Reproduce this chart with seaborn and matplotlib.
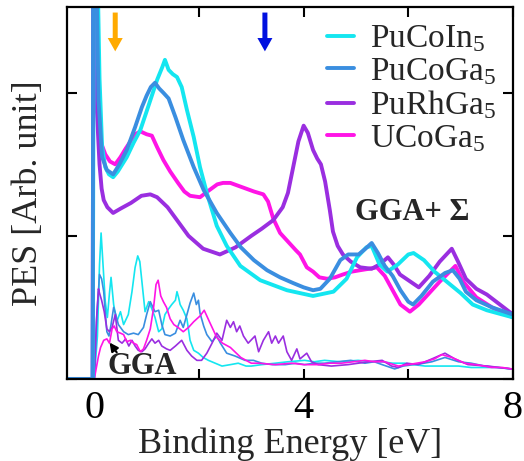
import numpy as np
import pandas as pd
import matplotlib
matplotlib.use("Agg")
import matplotlib.pyplot as plt
import seaborn as sns

# compounds and colours
names = ["PuCoIn$_5$", "PuCoGa$_5$", "PuRhGa$_5$", "UCoGa$_5$"]
colors = ["#14e6f0", "#3a8ee0", "#9a2ee0", "#ff14e6"]

# GGA+Sigma spectra (thick)
x_pucoin = [-0.5, -0.03, -0.01, 0.06, 0.1, 0.15, 0.21, 0.28, 0.36, 0.45, 0.62, 0.75, 0.88, 1.0, 1.1,
            1.2, 1.3, 1.35, 1.42, 1.5, 1.58, 1.67, 1.77, 1.9, 2.02, 2.15, 2.34, 2.53, 2.79, 3.17,
            3.68, 4.18, 4.57, 4.82, 5.02, 5.2, 5.3, 5.45, 5.6, 5.8, 6.0, 6.1, 6.3, 6.5, 6.7, 7.0,
            7.23, 7.5, 7.8, 8.0]
y_pucoin = [0.0, 0.0, 2.9, 2.9, 2.1, 1.62, 1.48, 1.43, 1.41, 1.45, 1.55, 1.65, 1.74, 1.87, 1.98,
            2.09, 2.18, 2.23, 2.16, 2.13, 2.11, 2.04, 1.88, 1.69, 1.48, 1.3, 1.07, 0.93, 0.79, 0.69,
            0.62, 0.58, 0.61, 0.7, 0.85, 0.92, 0.93, 0.8, 0.75, 0.8, 0.87, 0.88, 0.83, 0.75, 0.69, 0.6,
            0.52, 0.48, 0.45, 0.43]

x_pucoga = [-0.5, -0.03, -0.02, 0.04, 0.08, 0.15, 0.24, 0.36, 0.48, 0.62, 0.78, 0.91, 1.0, 1.08,
            1.16, 1.24, 1.32, 1.42, 1.55, 1.7, 1.9, 2.09, 2.34, 2.6, 2.8, 3.05, 3.3, 3.55, 3.8, 4.0,
            4.18, 4.32, 4.5, 4.7, 4.85, 5.05, 5.18, 5.3, 5.42, 5.55, 5.7, 5.85, 6.0, 6.09, 6.25,
            6.47, 6.7, 6.85, 6.98, 7.1, 7.3, 7.6, 8.0]
y_pucoga = [0.0, 0.0, 2.9, 2.9, 1.95, 1.55, 1.46, 1.43, 1.5, 1.6, 1.76, 1.9, 1.98, 2.04,
            2.07, 2.03, 2.0, 1.96, 1.83, 1.67, 1.48, 1.32, 1.16, 1.02, 0.92, 0.83, 0.76, 0.71, 0.67, 0.64,
            0.62, 0.63, 0.7, 0.83, 0.87, 0.87, 0.91, 0.95, 0.88, 0.79, 0.72, 0.62, 0.54, 0.52, 0.58,
            0.68, 0.74, 0.76, 0.7, 0.61, 0.55, 0.5, 0.45]

x_purhga = [-0.5, -0.03, -0.02, 0.03, 0.05, 0.1, 0.14, 0.18, 0.25, 0.36, 0.5, 0.7, 0.9, 1.07, 1.2,
            1.4, 1.6, 1.8, 2.08, 2.4, 2.7, 3.0, 3.2, 3.42, 3.6, 3.7, 3.8, 3.9, 4.0, 4.08, 4.18, 4.26,
            4.33, 4.41, 4.5, 4.56, 4.65, 4.75, 4.9, 5.08, 5.3, 5.45, 5.61, 5.72, 5.84, 6.0, 6.2,
            6.4, 6.6, 6.83, 6.95, 7.1, 7.3, 7.5, 7.75, 8.0]
y_purhga = [0.0, 0.0, 2.9, 2.4, 1.87, 1.5, 1.33, 1.25, 1.2, 1.16, 1.19, 1.23, 1.28, 1.29, 1.27,
            1.2, 1.1, 1.0, 0.91, 0.87, 0.92, 1.0, 1.05, 1.11, 1.2, 1.3, 1.48, 1.66, 1.77, 1.72, 1.6, 1.54,
            1.5, 1.38, 1.18, 1.03, 0.93, 0.87, 0.82, 0.78, 0.77, 0.8, 0.85, 0.8, 0.73, 0.69, 0.64,
            0.72, 0.82, 0.91, 0.82, 0.7, 0.63, 0.59, 0.52, 0.45]

x_ucoga = [-0.5, -0.03, -0.02, 0.03, 0.05, 0.11, 0.21, 0.3, 0.4, 0.5, 0.6, 0.69, 0.78, 0.88, 1.0,
           1.1, 1.2, 1.32, 1.45, 1.6, 1.72, 1.83, 2.02, 2.2, 2.35, 2.46, 2.6, 2.75, 2.9, 3.05, 3.23,
           3.32, 3.42, 3.55, 3.7, 3.85, 3.93, 4.06, 4.18, 4.3, 4.45, 4.6, 4.75, 4.92, 5.08, 5.25,
           5.4, 5.55, 5.7, 5.85, 6.03, 6.2, 6.4, 6.6, 6.9, 7.05, 7.3, 7.6, 8.0]
y_ucoga = [0.0, 0.0, 2.9, 2.6, 2.2, 1.67, 1.57, 1.52, 1.5, 1.55, 1.61, 1.66, 1.71, 1.73, 1.71,
           1.7, 1.62, 1.53, 1.45, 1.37, 1.31, 1.28, 1.27, 1.32, 1.36, 1.37, 1.37, 1.35, 1.33, 1.31, 1.29,
           1.24, 1.12, 1.02, 0.96, 0.9, 0.87, 0.78, 0.75, 0.71, 0.7, 0.71, 0.73, 0.75, 0.76, 0.77,
           0.78, 0.72, 0.62, 0.52, 0.47, 0.52, 0.6, 0.68, 0.79, 0.68, 0.57, 0.5, 0.43]

# GGA spectra (thin)
gx_pucoin = [0.0, 0.06, 0.1, 0.13, 0.17, 0.21, 0.25, 0.29, 0.32, 0.37, 0.43, 0.5, 0.56, 0.65, 0.72,
             0.78, 0.83, 0.87, 0.93, 0.97, 1.04, 1.1, 1.16, 1.23, 1.29, 1.35, 1.42, 1.48, 1.55, 1.58,
             1.61, 1.64, 1.7, 1.77, 1.83, 1.9, 1.99, 2.08, 2.18, 2.31, 2.44, 2.6, 2.75, 2.9, 3.0, 3.2,
             3.46, 3.7, 4.02, 4.2, 4.4, 4.7, 5.04, 5.3, 5.5, 5.7, 5.93, 6.1, 6.32, 6.6, 6.96, 7.2,
             7.46, 7.7, 7.97]
gy_pucoin = [0.0, 0.3, 0.8, 1.02, 0.78, 0.54, 0.43, 0.6, 0.71, 0.52, 0.4, 0.47, 0.38, 0.45, 0.61,
             0.78, 0.86, 0.82, 0.61, 0.47, 0.54, 0.49, 0.43, 0.33, 0.35, 0.45, 0.49, 0.52, 0.55, 0.61,
             0.57, 0.52, 0.48, 0.42, 0.27, 0.2, 0.18, 0.15, 0.13, 0.11, 0.09, 0.1, 0.11, 0.09, 0.09, 0.1,
             0.11, 0.12, 0.13, 0.12, 0.13, 0.12, 0.13, 0.12, 0.12, 0.11, 0.11, 0.1, 0.09, 0.09, 0.09, 0.08,
             0.08, 0.08, 0.07]

gx_pucoga = [0.0, 0.05, 0.1, 0.14, 0.18, 0.21, 0.24, 0.28, 0.32, 0.37, 0.41, 0.46, 0.56, 0.65, 0.75,
             0.84, 0.94, 1.0, 1.07, 1.12, 1.16, 1.23, 1.29, 1.35, 1.45, 1.55, 1.64, 1.7, 1.77, 1.83,
             1.9, 1.95, 1.99, 2.02, 2.09, 2.15, 2.25, 2.34, 2.41, 2.53, 2.69, 2.88, 3.04, 3.2, 3.4,
             3.65, 3.85, 4.02, 4.2, 4.4, 4.65, 4.9, 5.17, 5.35, 5.5, 5.74, 5.9, 6.1, 6.3, 6.45, 6.7,
             6.96, 7.2, 7.46, 7.7, 7.97]
gy_pucoga = [0.0, 0.45, 0.73, 0.7, 0.61, 0.47, 0.33, 0.3, 0.38, 0.5, 0.45, 0.38, 0.33, 0.31, 0.32,
             0.31, 0.36, 0.45, 0.54, 0.5, 0.47, 0.48, 0.38, 0.31, 0.3, 0.32, 0.41, 0.36, 0.45, 0.53,
             0.6, 0.52, 0.55, 0.46, 0.37, 0.31, 0.26, 0.3, 0.25, 0.18, 0.16, 0.13, 0.13, 0.11, 0.1,
             0.1, 0.11, 0.1, 0.11, 0.11, 0.12, 0.13, 0.11, 0.12, 0.1, 0.07, 0.09, 0.1, 0.11, 0.12, 0.15,
             0.12, 0.11, 0.09, 0.08, 0.07]

gx_purhga = [0.0, 0.04, 0.08, 0.1, 0.14, 0.19, 0.24, 0.29, 0.34, 0.4, 0.46, 0.53, 0.6, 0.66, 0.72,
             0.78, 0.84, 0.91, 0.97, 1.04, 1.1, 1.16, 1.23, 1.29, 1.38, 1.45, 1.55, 1.67, 1.77, 1.86,
             1.96, 2.05, 2.15, 2.25, 2.34, 2.44, 2.53, 2.6, 2.66, 2.72, 2.78, 2.85, 2.94, 3.07, 3.14,
             3.23, 3.33, 3.39, 3.46, 3.52, 3.61, 3.68, 3.77, 3.87, 3.93, 4.06, 4.15, 4.28, 4.53, 4.85,
             5.24, 5.5, 5.68, 5.81, 5.97, 6.19, 6.45, 6.7, 6.89, 7.14, 7.52, 7.97]
gy_purhga = [0.0, 0.4, 0.63, 0.6, 0.55, 0.47, 0.35, 0.33, 0.36, 0.45, 0.27, 0.25, 0.28, 0.23, 0.27,
             0.23, 0.2, 0.19, 0.21, 0.25, 0.28, 0.25, 0.27, 0.23, 0.21, 0.2, 0.23, 0.27, 0.2, 0.16,
             0.13, 0.13, 0.18, 0.25, 0.32, 0.27, 0.41, 0.36, 0.4, 0.33, 0.37, 0.3, 0.25, 0.3, 0.19,
             0.27, 0.33, 0.25, 0.3, 0.25, 0.3, 0.19, 0.13, 0.21, 0.14, 0.18, 0.12, 0.1, 0.09, 0.1,
             0.12, 0.13, 0.09, 0.08, 0.11, 0.1, 0.14, 0.18, 0.14, 0.1, 0.09, 0.07]

gx_ucoga = [0.0, 0.05, 0.08, 0.12, 0.18, 0.24, 0.29, 0.34, 0.38, 0.43, 0.5, 0.56, 0.62, 0.69, 0.75,
            0.81, 0.88, 0.94, 1.0, 1.07, 1.13, 1.18, 1.22, 1.27, 1.32, 1.38, 1.45, 1.52, 1.6, 1.7,
            1.8, 1.9, 2.02, 2.1, 2.2, 2.34, 2.45, 2.6, 2.8, 3.0, 3.14, 3.46, 3.77, 4.0, 4.28, 4.5,
            4.72, 4.95, 5.17, 5.35, 5.55, 5.81, 6.0, 6.32, 6.5, 6.64, 6.83, 7.08, 7.3, 7.59, 7.8, 7.97]
gy_ucoga = [0.0, 0.1, 0.16, 0.22, 0.27, 0.28, 0.25, 0.35, 0.37, 0.33, 0.32, 0.31, 0.26, 0.27, 0.25,
            0.24, 0.19, 0.21, 0.27, 0.35, 0.49, 0.66, 0.69, 0.58, 0.54, 0.5, 0.42, 0.38, 0.36, 0.33,
            0.36, 0.4, 0.44, 0.48, 0.4, 0.29, 0.25, 0.22, 0.15, 0.11, 0.11, 0.1, 0.11, 0.1, 0.1, 0.11,
            0.11, 0.12, 0.13, 0.12, 0.12, 0.09, 0.1, 0.12, 0.14, 0.17, 0.15, 0.11, 0.1, 0.08, 0.08, 0.07]

thick = [(x_pucoin, y_pucoin), (x_pucoga, y_pucoga), (x_purhga, y_purhga), (x_ucoga, y_ucoga)]
thin = [(gx_pucoin, gy_pucoin), (gx_pucoga, gy_pucoga), (gx_purhga, gy_purhga), (gx_ucoga, gy_ucoga)]

sns.set_style("ticks")
plt.rcParams["font.family"] = ["Liberation Serif", "DejaVu Serif"]
plt.rcParams["mathtext.default"] = "regular"

fig = plt.figure(figsize=(5.24, 4.61), dpi=100)
ax = fig.add_axes([0.128, 0.178, 0.851, 0.807])

for (gx, gy), c in zip(thin, colors):
    sns.lineplot(x=gx, y=gy, ax=ax, color=c, lw=1.2, sort=False, estimator=None)

handles = {}
for i in [3, 2, 0, 1]:
    tx, ty = thick[i]
    sns.lineplot(x=tx, y=ty, ax=ax, color=colors[i], lw=2.8, sort=False, estimator=None)
    handles[i] = ax.lines[-1]

ax.set_xlim(-0.52, 8.0)
ax.set_ylim(0, 2.6)
ax.set_xticks([0, 2, 4, 6, 8])
ax.set_xticklabels(["0", "", "4", "", "8"])
ax.set_yticks([0, 1, 2])
ax.set_yticklabels([])
ax.tick_params(direction="in", top=True, right=True, length=7, width=1.5,
               labelsize=29, pad=8, colors="black")
for s in ax.spines.values():
    s.set_linewidth(1.6)
    s.set_color("black")

ax.set_xlabel("Binding Energy [eV]", fontsize=26, labelpad=0)
ax.set_ylabel("PES [Arb. unit]", fontsize=26, labelpad=8)

leg = ax.legend([handles[i] for i in range(4)], names, loc="upper right",
                bbox_to_anchor=(1.0, 1.0), frameon=False, fontsize=24,
                handlelength=0.8, handletextpad=0.5, labelspacing=0.05,
                borderaxespad=0.1)

# arrows marking energies
ax.annotate("", xy=(0.4, 2.27), xytext=(0.4, 2.58),
            arrowprops=dict(arrowstyle="simple,head_length=0.8,head_width=0.9,tail_width=0.3",
                            mutation_scale=12, color="#ffaa00", lw=0))
ax.annotate("", xy=(3.26, 2.27), xytext=(3.26, 2.58),
            arrowprops=dict(arrowstyle="simple,head_length=0.8,head_width=0.9,tail_width=0.3",
                            mutation_scale=12, color="#0010e0", lw=0))

ax.text(6.07, 1.16, "GGA+ Σ", fontsize=22, fontweight="bold", ha="center", va="center")
ax.text(0.92, 0.085, "GGA", fontsize=22, fontweight="bold", ha="center", va="center")
ax.annotate("", xy=(0.26, 0.27), xytext=(0.46, 0.17),
            arrowprops=dict(arrowstyle="-|>,head_length=0.5,head_width=0.25", color="black", lw=1.5))

fig.savefig("out.png", dpi=100)
